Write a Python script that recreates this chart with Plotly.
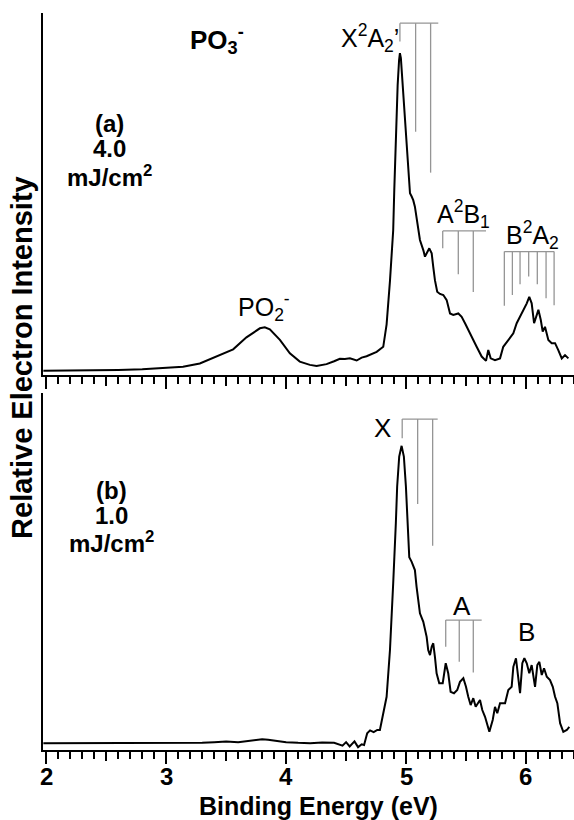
import plotly.graph_objects as go

# ---------------- data ----------------
# panel (a) 4.0 mJ/cm2 : binding energy (eV) and relative intensity
energy_a = [1.975, 2.2, 2.4, 2.6, 2.8, 2.862, 3.0, 3.14, 3.28, 3.419, 3.558, 3.669, 3.72,
            3.781, 3.822, 3.864, 3.948, 4.031, 4.114, 4.198, 4.254, 4.337, 4.40, 4.448,
            4.49, 4.532, 4.588, 4.63, 4.671, 4.755, 4.81, 4.838, 4.866, 4.893, 4.902,
            4.916, 4.930, 4.942, 4.949, 4.957, 4.968, 4.982, 5.005, 5.027, 5.033, 5.047,
            5.060, 5.074, 5.088, 5.102, 5.116, 5.144, 5.158, 5.194, 5.214, 5.227, 5.241,
            5.260, 5.283, 5.311, 5.339, 5.367, 5.394, 5.436, 5.464, 5.492, 5.519, 5.548,
            5.589, 5.631, 5.667, 5.686, 5.706, 5.742, 5.784, 5.811, 5.853, 5.895, 5.923,
            5.951, 5.978, 6.007, 6.028, 6.048, 6.068, 6.090, 6.104, 6.124, 6.140, 6.159,
            6.187, 6.215, 6.243, 6.270, 6.299, 6.326, 6.354]
intensity_a = [0.012, 0.012, 0.013, 0.014, 0.016, 0.017, 0.019, 0.023, 0.032, 0.051, 0.071,
               0.104, 0.115, 0.129, 0.132, 0.126, 0.097, 0.060, 0.037, 0.028, 0.025, 0.030,
               0.038, 0.045, 0.044, 0.046, 0.040, 0.048, 0.052, 0.064, 0.078, 0.14, 0.26,
               0.40, 0.511, 0.66, 0.80, 0.87, 0.889, 0.875, 0.82, 0.73, 0.62, 0.511, 0.502,
               0.493, 0.483, 0.465, 0.437, 0.40, 0.373, 0.345, 0.327, 0.350, 0.336, 0.299,
               0.262, 0.230, 0.224, 0.221, 0.207, 0.170, 0.166, 0.170, 0.161, 0.143, 0.124,
               0.106, 0.078, 0.051, 0.039, 0.069, 0.046, 0.041, 0.046, 0.078, 0.097, 0.115,
               0.143, 0.161, 0.180, 0.198, 0.216, 0.198, 0.143, 0.170, 0.180, 0.152, 0.120,
               0.133, 0.097, 0.088, 0.088, 0.069, 0.046, 0.055, 0.046]

# panel (b) 1.0 mJ/cm2
energy_b = [1.975, 2.3, 2.7, 3.0, 3.3, 3.4, 3.5, 3.6, 3.7, 3.8, 3.85, 3.9, 4.0, 4.1, 4.2,
            4.3, 4.4, 4.47, 4.5, 4.53, 4.57, 4.6, 4.63, 4.65, 4.676, 4.70, 4.73, 4.76,
            4.782, 4.838, 4.866, 4.893, 4.907, 4.915, 4.926, 4.943, 4.963, 4.982, 4.999,
            5.013, 5.027, 5.047, 5.074, 5.088, 5.102, 5.116, 5.144, 5.158, 5.172, 5.185,
            5.200, 5.214, 5.227, 5.241, 5.255, 5.277, 5.306, 5.331, 5.352, 5.372, 5.400,
            5.427, 5.450, 5.478, 5.500, 5.519, 5.539, 5.561, 5.581, 5.617, 5.636, 5.659,
            5.695, 5.723, 5.742, 5.761, 5.784, 5.826, 5.853, 5.881, 5.895, 5.917, 5.934,
            5.951, 5.970, 5.987, 6.007, 6.028, 6.048, 6.076, 6.095, 6.112, 6.132, 6.151,
            6.174, 6.201, 6.224, 6.243, 6.262, 6.285, 6.312, 6.341, 6.362]
intensity_b = [0.019, 0.019, 0.019, 0.019, 0.020, 0.022, 0.024, 0.022, 0.027, 0.030, 0.029,
               0.026, 0.022, 0.020, 0.019, 0.021, 0.020, 0.012, 0.022, 0.010, 0.024, 0.008,
               0.016, 0.014, 0.047, 0.055, 0.050, 0.056, 0.056, 0.149, 0.28, 0.467, 0.56,
               0.635, 0.738, 0.822, 0.852, 0.822, 0.738, 0.635, 0.54, 0.527, 0.504, 0.457,
               0.42, 0.383, 0.359, 0.336, 0.317, 0.280, 0.266, 0.289, 0.299, 0.261, 0.215,
               0.187, 0.187, 0.243, 0.215, 0.163, 0.159, 0.168, 0.191, 0.201, 0.177, 0.149,
               0.126, 0.145, 0.121, 0.140, 0.112, 0.093, 0.051, 0.084, 0.121, 0.103, 0.131,
               0.131, 0.168, 0.177, 0.233, 0.257, 0.205, 0.159, 0.243, 0.257, 0.243, 0.215,
               0.238, 0.177, 0.238, 0.247, 0.210, 0.229, 0.205, 0.196, 0.177, 0.149, 0.131,
               0.075, 0.051, 0.056, 0.065]

# Franck-Condon stick combs: stick energies, stick lower ends, comb top, comb end
xa_sticks = [4.949, 5.080, 5.205]
xa_bottoms = [0.921, 0.672, 0.559]
xa_top, xa_end = 0.972, 5.269
aa_sticks = [5.306, 5.436, 5.561]
aa_bottoms = [0.350, 0.278, 0.229]
aa_top, aa_end = 0.398, 5.667
ba_sticks = [5.820, 5.887, 5.951, 6.023, 6.095, 6.168, 6.235]
ba_bottoms = [0.191, 0.221, 0.251, 0.272, 0.251, 0.212, 0.193]
ba_top, ba_end = 0.341, 6.235

xb_sticks = [4.968, 5.097, 5.222]
xb_bottoms = [0.873, 0.689, 0.572]
xb_top, xb_end = 0.927, 5.264
ab_sticks = [5.331, 5.444, 5.561]
ab_bottoms = [0.289, 0.247, 0.217]
ab_top, ab_end = 0.364, 5.631

major_ticks = [2, 3, 4, 5, 6]
half_ticks = [2.5, 3.5, 4.5, 5.5]
tick_labels = ["2", "3", "4", "5", "6"]

# ---------------- figure ----------------
FONT = "Liberation Sans, Arial, Helvetica, sans-serif"
STICK = "#959595"


def comb(pos, bottoms, top, end):
    xs, ys = [pos[0], end], [top, top]
    for p, b in zip(pos, bottoms):
        xs += [None, p, p]
        ys += [None, top, b]
    return xs, ys


fig = go.Figure()
fig.add_trace(go.Scatter(x=energy_a, y=intensity_a, mode="lines",
                         line=dict(color="black", width=2), xaxis="x", yaxis="y"))
for pos, bot, top, end in [(xa_sticks, xa_bottoms, xa_top, xa_end),
                           (aa_sticks, aa_bottoms, aa_top, aa_end),
                           (ba_sticks, ba_bottoms, ba_top, ba_end)]:
    xs, ys = comb(pos, bot, top, end)
    fig.add_trace(go.Scatter(x=xs, y=ys, mode="lines", line=dict(color=STICK, width=1.3),
                             xaxis="x", yaxis="y"))

fig.add_trace(go.Scatter(x=energy_b, y=intensity_b, mode="lines",
                         line=dict(color="black", width=2), xaxis="x2", yaxis="y2"))
for pos, bot, top, end in [(xb_sticks, xb_bottoms, xb_top, xb_end),
                           (ab_sticks, ab_bottoms, ab_top, ab_end)]:
    xs, ys = comb(pos, bot, top, end)
    fig.add_trace(go.Scatter(x=xs, y=ys, mode="lines", line=dict(color=STICK, width=1.3),
                             xaxis="x2", yaxis="y2"))

# empty traces so the half-tick overlay axes are drawn
fig.add_trace(go.Scatter(x=[None], y=[None], xaxis="x3", yaxis="y", showlegend=False))
fig.add_trace(go.Scatter(x=[None], y=[None], xaxis="x4", yaxis="y2", showlegend=False))

XR = [1.972, 6.401]
minor = dict(tickmode="linear", tick0=2, dtick=0.1, ticklen=7, tickwidth=1.5,
             ticks="outside", tickcolor="black", showgrid=False)
common_x = dict(range=XR, showline=True, linecolor="black", linewidth=2, ticks="outside",
                tickmode="array", tickvals=major_ticks, ticktext=tick_labels, ticklen=12,
                tickwidth=2, tickcolor="black", showgrid=False, zeroline=False, minor=minor,
                showticklabels=False)
half_x = dict(range=XR, showline=False, ticks="outside", tickmode="array", tickvals=half_ticks,
              ticklen=10, tickwidth=1.5, tickcolor="black", showticklabels=False,
              showgrid=False, zeroline=False)
common_y = dict(range=[0, 1], showline=True, linecolor="black", linewidth=2, ticks="",
                showticklabels=False, showgrid=False, zeroline=False)

fig.update_layout(
    width=574, height=820,
    margin=dict(l=43, r=0, t=13, b=70),
    paper_bgcolor="white", plot_bgcolor="white",
    showlegend=False,
    font=dict(family=FONT, color="black"),
    xaxis=dict(**common_x, anchor="y"),
    yaxis=dict(**common_y, domain=[0.5088, 1], anchor="x"),
    xaxis2=dict(**common_x, anchor="y2"),
    yaxis2=dict(**common_y, domain=[0, 0.4844], anchor="x2"),
    xaxis3=dict(**half_x, overlaying="x", anchor="y"),
    xaxis4=dict(**half_x, overlaying="x2", anchor="y2"),
)

ann = []


def add(text, x, y, xref, yref, size, bold=False, angle=0):
    ann.append(dict(text=text, x=x, y=y, xref=xref, yref=yref, showarrow=False,
                    xanchor="center", yanchor="middle", textangle=angle,
                    font=dict(family=FONT, size=size, color="black",
                              weight="bold" if bold else "normal")))


add("PO<sub>3</sub><sup>-</sup>", 3.42, 0.925, "x", "y", 26, bold=True)
add("(a)", 2.53, 0.696, "x", "y", 24, bold=True)
add("4.0", 2.53, 0.627, "x", "y", 24, bold=True)
add("mJ/cm<sup>2</sup>", 2.53, 0.550, "x", "y", 24, bold=True)
add("X<sup>2</sup>A<sub>2</sub>’", 4.70, 0.930, "x", "y", 25)
add("A<sup>2</sup>B<sub>1</sub>", 5.476, 0.445, "x", "y", 25)
add("B<sup>2</sup>A<sub>2</sub>", 6.051, 0.387, "x", "y", 25)
add("PO<sub>2</sub><sup>-</sup>", 3.815, 0.188, "x", "y", 25)

add("(b)", 2.545, 0.728, "x2", "y2", 24, bold=True)
add("1.0", 2.545, 0.658, "x2", "y2", 24, bold=True)
add("mJ/cm<sup>2</sup>", 2.545, 0.583, "x2", "y2", 24, bold=True)
add("X", 4.803, 0.903, "x2", "y2", 26)
add("A", 5.464, 0.403, "x2", "y2", 26)
add("B", 6.007, 0.331, "x2", "y2", 26)

# bottom tick labels
for tv, tl in zip(major_ticks, tick_labels):
    ann.append(dict(text=tl, x=tv, y=-0.0353, xref="x2", yref="paper", showarrow=False,
                    xanchor="center", yanchor="middle",
                    font=dict(family=FONT, size=24, color="black", weight="bold")))

add("Relative Electron Intensity", -0.0395, 0.532, "paper", "paper", 29, bold=True, angle=-90)
add("Binding Energy (eV)", 0.519, -0.0755, "paper", "paper", 25, bold=True)

fig.update_layout(annotations=ann)
fig.write_html("out.html", config={"displayModeBar": False},
               post_script="document.body.style.margin='0';document.body.style.padding='0';")
